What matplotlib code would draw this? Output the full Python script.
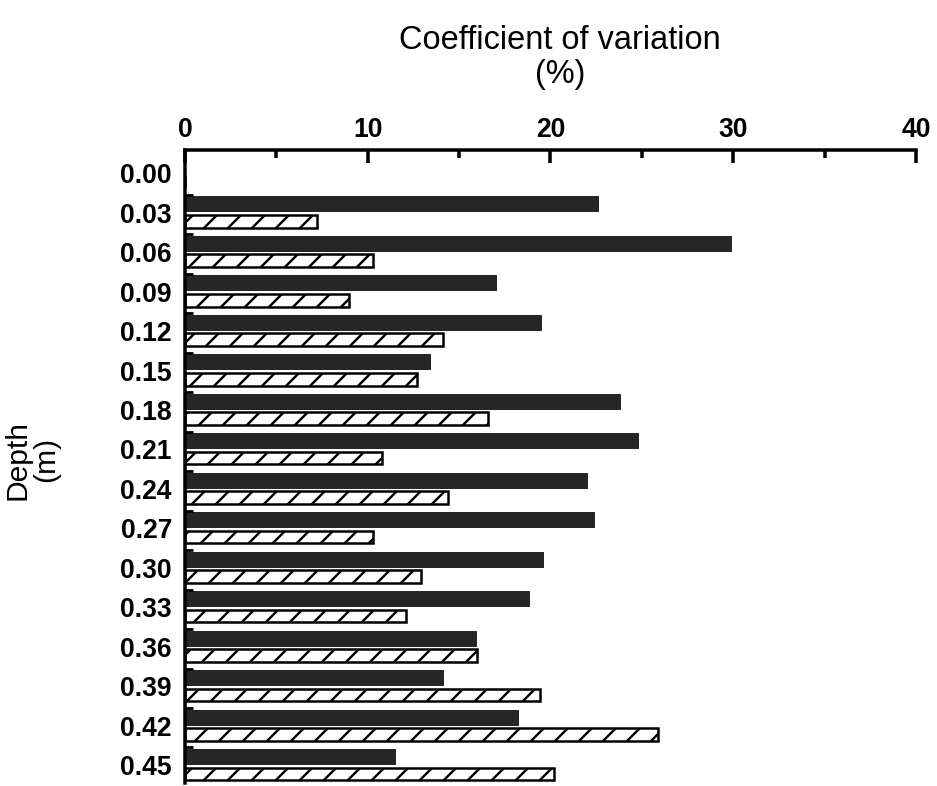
import matplotlib.pyplot as plt
import numpy as np

plt.rcParams['font.family'] = ['Liberation Sans', 'DejaVu Sans']
plt.rcParams['hatch.linewidth'] = 2.4

# depth labels (m) and coefficient of variation (%)
depths = ['0.00', '0.03', '0.06', '0.09', '0.12', '0.15', '0.18', '0.21',
          '0.24', '0.27', '0.30', '0.33', '0.36', '0.39', '0.42', '0.45']
solid = [0, 22.6, 29.9, 17.0, 19.5, 13.4, 23.8, 24.8,
         22.0, 22.4, 19.6, 18.8, 15.9, 14.1, 18.2, 11.5]
hatched = [0, 7.2, 10.3, 9.0, 14.1, 12.7, 16.6, 10.8,
           14.4, 10.3, 12.9, 12.1, 16.0, 19.4, 25.9, 20.2]

# drawn at 72 dpi so that sizes in points equal pixels
fig = plt.figure(figsize=(937 / 72, 786 / 72), dpi=72)
ax = fig.add_axes([0.1974, 0.0038, 0.7802, 0.805])

y = np.arange(len(depths))
ax.barh(y - 0.22, solid, height=0.38, color='#262626', edgecolor='#262626')
ax.barh(y + 0.22, hatched, height=0.32, color='white', edgecolor='black',
        hatch='/', linewidth=2.5)

ax.set_xlim(0, 40)
ax.set_ylim(15.45, -0.58)

ax.xaxis.tick_top()
ax.set_xticks([0, 10, 20, 30, 40])
ax.set_xticks([5, 15, 25, 35], minor=True)
ax.tick_params(axis='x', which='major', direction='in', length=13, width=3.5,
               labelsize=26.5, pad=7)
ax.tick_params(axis='x', which='minor', direction='in', length=8, width=3.5)
for lab in ax.get_xticklabels():
    lab.set_fontweight('bold')

ax.set_yticks(y)
ax.set_yticklabels(depths, fontweight='bold', fontsize=26.5)
ax.set_yticks(y[1:] - 0.45, minor=True)
ax.tick_params(axis='y', which='major', length=0, pad=13)
ax.tick_params(axis='y', which='minor', direction='in', length=8, width=2.8)

for s in ['right', 'bottom']:
    ax.spines[s].set_visible(False)
for s in ['top', 'left']:
    ax.spines[s].set_linewidth(3.5)

fig.text(0.598, 0.968, 'Coefficient of variation\n(%)', ha='center', va='top',
         fontsize=32.5, linespacing=1.1)
fig.text(0.034, 0.415, 'Depth\n(m)', ha='center', va='center', rotation=90,
         fontsize=30, linespacing=1.05)

fig.savefig('out.png', dpi=72)
